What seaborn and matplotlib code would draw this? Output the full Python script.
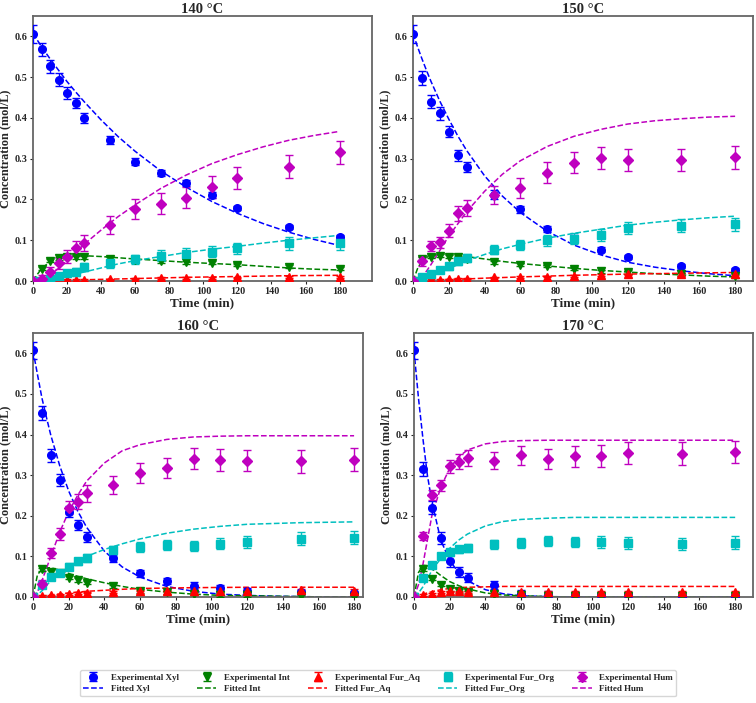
import numpy as np
import pandas as pd
import matplotlib
matplotlib.use("Agg")
import matplotlib.pyplot as plt
import seaborn as sns

sns.set_style("white")
plt.rcParams['font.family'] = ['Liberation Serif', 'DejaVu Serif']
plt.rcParams['font.weight'] = 'bold'
plt.rcParams['axes.labelweight'] = 'bold'
plt.rcParams['axes.titleweight'] = 'bold'

# ---------------- data ----------------
temps = ["140 °C", "150 °C", "160 °C", "170 °C"]
species = ["Xyl", "Int", "Fur_Aq", "Fur_Org", "Hum"]
exp_t = [0, 5, 10, 15, 20, 25, 30, 45, 60, 75, 90, 105, 120, 150, 180]
fit_t = [0, 2.5, 5, 7.5, 10, 15, 20, 25, 30, 40, 50, 60, 75, 90, 105, 120, 135, 150, 165, 180]

# Experimental values (mol/L)
xyl_140 = [0.607, 0.568, 0.527, 0.494, 0.461, 0.437, 0.400, 0.346, 0.293, 0.265, 0.240, 0.211, 0.179, 0.133, 0.107]
int_140 = [0.0, 0.030, 0.050, 0.056, 0.058, 0.058, 0.058, 0.055, 0.052, 0.048, 0.046, 0.045, 0.040, 0.035, 0.030]
furaq_140 = [0.0, 0.001, 0.001, 0.002, 0.002, 0.002, 0.003, 0.004, 0.006, 0.007, 0.008, 0.008, 0.009, 0.010, 0.010]
furorg_140 = [0.0, 0.0, 0.006, 0.012, 0.020, 0.022, 0.035, 0.043, 0.053, 0.062, 0.067, 0.072, 0.080, 0.092, 0.093]
hum_140 = [0.0, 0.005, 0.022, 0.043, 0.060, 0.081, 0.094, 0.138, 0.176, 0.190, 0.204, 0.230, 0.252, 0.280, 0.316]

xyl_150 = [0.607, 0.498, 0.440, 0.411, 0.366, 0.308, 0.279, 0.212, 0.176, 0.127, 0.104, 0.077, 0.059, 0.036, 0.027]
int_150 = [0.0, 0.055, 0.060, 0.062, 0.060, 0.058, 0.055, 0.046, 0.040, 0.038, 0.030, 0.024, 0.022, 0.016, 0.012]
furaq_150 = [0.0, 0.001, 0.002, 0.003, 0.004, 0.005, 0.006, 0.009, 0.010, 0.011, 0.013, 0.015, 0.016, 0.016, 0.018]
furorg_150 = [0.0, 0.010, 0.018, 0.028, 0.036, 0.048, 0.056, 0.077, 0.089, 0.100, 0.104, 0.113, 0.130, 0.136, 0.139]
hum_150 = [0.0, 0.048, 0.086, 0.095, 0.123, 0.166, 0.179, 0.210, 0.228, 0.266, 0.290, 0.302, 0.296, 0.297, 0.303]

xyl_160 = [0.607, 0.453, 0.349, 0.288, 0.210, 0.177, 0.147, 0.097, 0.058, 0.040, 0.028, 0.022, 0.016, 0.012, 0.010]
int_160 = [0.0, 0.068, 0.062, 0.060, 0.048, 0.042, 0.035, 0.026, 0.015, 0.012, 0.008, 0.005, 0.004, 0.002, 0.001]
furaq_160 = [0.0, 0.002, 0.004, 0.006, 0.008, 0.010, 0.011, 0.013, 0.016, 0.016, 0.016, 0.016, 0.016, 0.017, 0.016]
furorg_160 = [0.0, 0.030, 0.050, 0.060, 0.075, 0.088, 0.096, 0.115, 0.123, 0.128, 0.126, 0.131, 0.135, 0.144, 0.146]
hum_160 = [0.0, 0.033, 0.109, 0.155, 0.220, 0.235, 0.255, 0.276, 0.305, 0.318, 0.340, 0.338, 0.336, 0.334, 0.338]

xyl_170 = [0.607, 0.315, 0.220, 0.145, 0.089, 0.062, 0.048, 0.029, 0.008, 0.006, 0.005, 0.004, 0.004, 0.003, 0.003]
int_170 = [0.0, 0.068, 0.045, 0.030, 0.020, 0.015, 0.012, 0.007, 0.005, 0.003, 0.002, 0.002, 0.002, 0.002, 0.002]
furaq_170 = [0.0, 0.005, 0.008, 0.012, 0.014, 0.014, 0.013, 0.013, 0.013, 0.013, 0.013, 0.013, 0.012, 0.012, 0.012]
furorg_170 = [0.0, 0.047, 0.078, 0.102, 0.110, 0.117, 0.120, 0.130, 0.133, 0.138, 0.135, 0.135, 0.133, 0.130, 0.133]
hum_170 = [0.0, 0.150, 0.252, 0.275, 0.322, 0.333, 0.342, 0.336, 0.349, 0.339, 0.347, 0.348, 0.355, 0.353, 0.357]

# Error bars (mol/L)
xyl_err = [0.022, 0.017, 0.016, 0.015, 0.014, 0.013, 0.012, 0.010, 0.009, 0.008, 0.008, 0.007, 0.006, 0.005, 0.005]
int_err = [0.003, 0.004, 0.004, 0.004, 0.004, 0.004, 0.004, 0.004, 0.004, 0.004, 0.004, 0.004, 0.004, 0.004, 0.004]
furaq_err = [0.002, 0.002, 0.002, 0.002, 0.002, 0.002, 0.002, 0.002, 0.002, 0.002, 0.002, 0.002, 0.002, 0.003, 0.003]
furorg_err = [0.002, 0.005, 0.006, 0.007, 0.008, 0.009, 0.010, 0.011, 0.012, 0.013, 0.013, 0.014, 0.014, 0.015, 0.016]
hum_err = [0.003, 0.010, 0.012, 0.014, 0.016, 0.018, 0.020, 0.022, 0.024, 0.025, 0.026, 0.027, 0.027, 0.028, 0.028]

# Fitted curves read at fit_t
fxyl_140 = [0.607, 0.591, 0.575, 0.560, 0.545, 0.517, 0.489, 0.464, 0.440, 0.395, 0.354, 0.318, 0.270, 0.230, 0.195, 0.166, 0.141, 0.120, 0.102, 0.087]
fint_140 = [0.0, 0.016, 0.030, 0.039, 0.046, 0.055, 0.060, 0.062, 0.062, 0.060, 0.057, 0.054, 0.050, 0.046, 0.043, 0.040, 0.036, 0.032, 0.029, 0.027]
ffuraq_140 = [0.0, 0.0, 0.0, 0.0005, 0.001, 0.0015, 0.002, 0.0025, 0.003, 0.004, 0.005, 0.006, 0.0075, 0.009, 0.010, 0.011, 0.012, 0.013, 0.0135, 0.014]
ffurorg_140 = [0.0, 0.0, 0.001, 0.002, 0.003, 0.007, 0.012, 0.017, 0.022, 0.032, 0.042, 0.050, 0.060, 0.070, 0.078, 0.085, 0.093, 0.100, 0.106, 0.112]
fhum_140 = [0.0, 0.001, 0.003, 0.008, 0.015, 0.031, 0.050, 0.070, 0.090, 0.125, 0.158, 0.187, 0.227, 0.260, 0.288, 0.310, 0.329, 0.345, 0.357, 0.367]

fxyl_150 = [0.607, 0.575, 0.545, 0.517, 0.490, 0.441, 0.397, 0.356, 0.320, 0.258, 0.208, 0.168, 0.122, 0.088, 0.064, 0.046, 0.034, 0.025, 0.018, 0.013]
fint_150 = [0.0, 0.030, 0.050, 0.058, 0.062, 0.066, 0.065, 0.063, 0.060, 0.054, 0.048, 0.043, 0.037, 0.031, 0.026, 0.022, 0.018, 0.015, 0.012, 0.010]
ffuraq_150 = [0.0, 0.0, 0.0005, 0.001, 0.0015, 0.003, 0.004, 0.0045, 0.005, 0.007, 0.0085, 0.010, 0.012, 0.014, 0.0155, 0.017, 0.018, 0.019, 0.020, 0.021]
ffurorg_150 = [0.0, 0.001, 0.003, 0.006, 0.010, 0.020, 0.030, 0.040, 0.050, 0.065, 0.079, 0.090, 0.105, 0.117, 0.127, 0.137, 0.144, 0.150, 0.155, 0.159]
fhum_150 = [0.0, 0.002, 0.010, 0.024, 0.040, 0.075, 0.110, 0.140, 0.170, 0.220, 0.262, 0.295, 0.330, 0.355, 0.372, 0.385, 0.393, 0.398, 0.402, 0.404]

fxyl_160 = [0.607, 0.548, 0.490, 0.443, 0.398, 0.323, 0.261, 0.212, 0.172, 0.113, 0.074, 0.049, 0.026, 0.014, 0.007, 0.004, 0.002, 0.001, 0.0, 0.0]
fint_160 = [0.0, 0.055, 0.068, 0.072, 0.072, 0.066, 0.058, 0.051, 0.045, 0.035, 0.026, 0.019, 0.012, 0.007, 0.004, 0.003, 0.002, 0.001, 0.0, 0.0]
ffuraq_160 = [0.0, 0.001, 0.002, 0.0035, 0.005, 0.0075, 0.010, 0.012, 0.014, 0.0165, 0.019, 0.021, 0.022, 0.023, 0.0235, 0.024, 0.024, 0.024, 0.024, 0.024]
ffurorg_160 = [0.0, 0.005, 0.015, 0.028, 0.040, 0.058, 0.075, 0.088, 0.100, 0.117, 0.131, 0.143, 0.157, 0.167, 0.174, 0.179, 0.181, 0.183, 0.184, 0.185]
fhum_160 = [0.0, 0.012, 0.040, 0.070, 0.100, 0.160, 0.210, 0.250, 0.285, 0.330, 0.360, 0.375, 0.388, 0.394, 0.396, 0.397, 0.397, 0.397, 0.397, 0.397]

fxyl_170 = [0.607, 0.490, 0.390, 0.300, 0.235, 0.140, 0.090, 0.060, 0.040, 0.018, 0.008, 0.003, 0.001, 0.0, 0.0, 0.0, 0.0, 0.0, 0.0, 0.0]
fint_170 = [0.0, 0.060, 0.078, 0.077, 0.070, 0.053, 0.038, 0.028, 0.020, 0.010, 0.005, 0.003, 0.001, 0.0, 0.0, 0.0, 0.0, 0.0, 0.0, 0.0]
ffuraq_170 = [0.0, 0.003, 0.007, 0.010, 0.013, 0.018, 0.021, 0.023, 0.024, 0.025, 0.026, 0.026, 0.026, 0.026, 0.026, 0.026, 0.026, 0.026, 0.026, 0.026]
ffurorg_170 = [0.0, 0.010, 0.025, 0.045, 0.065, 0.095, 0.120, 0.140, 0.155, 0.175, 0.186, 0.191, 0.194, 0.196, 0.196, 0.196, 0.196, 0.196, 0.196, 0.196]
fhum_170 = [0.0, 0.030, 0.080, 0.140, 0.200, 0.270, 0.317, 0.345, 0.362, 0.377, 0.383, 0.385, 0.386, 0.386, 0.386, 0.386, 0.386, 0.386, 0.386, 0.386]

exp_data = {
    "140 °C": [xyl_140, int_140, furaq_140, furorg_140, hum_140],
    "150 °C": [xyl_150, int_150, furaq_150, furorg_150, hum_150],
    "160 °C": [xyl_160, int_160, furaq_160, furorg_160, hum_160],
    "170 °C": [xyl_170, int_170, furaq_170, furorg_170, hum_170],
}
fit_data = {
    "140 °C": [fxyl_140, fint_140, ffuraq_140, ffurorg_140, fhum_140],
    "150 °C": [fxyl_150, fint_150, ffuraq_150, ffurorg_150, fhum_150],
    "160 °C": [fxyl_160, fint_160, ffuraq_160, ffurorg_160, fhum_160],
    "170 °C": [fxyl_170, fint_170, ffuraq_170, ffurorg_170, fhum_170],
}
errs = [xyl_err, int_err, furaq_err, furorg_err, hum_err]

# ---------------- style ----------------
colors = ["#0000ff", "#008000", "#ff0000", "#00bfbf", "#bf00bf"]
markers = ["o", "v", "^", "s", "D"]

W, H = 756, 703
fig = plt.figure(figsize=(W / 100, H / 100), dpi=100)

# axes boxes in pixels: left, right, top, bottom
boxes = [(33, 372, 16, 281), (413, 753, 16, 281),
         (33, 363, 333, 597), (414, 753, 333, 597)]
xmaxs = [199, 190, 185, 190]

handles, labels = [], []
for i, temp in enumerate(temps):
    l, r, t, b = boxes[i]
    ax = fig.add_axes([l / W, 1 - b / H, (r - l) / W, (b - t) / H])
    for j, sp in enumerate(species):
        cont = ax.errorbar(exp_t, exp_data[temp][j], yerr=errs[j], fmt=markers[j],
                           color=colors[j], ms=5.5, capsize=3, elinewidth=1,
                           capthick=1, zorder=3)
        df = pd.DataFrame({"t": fit_t, "c": fit_data[temp][j]})
        sns.lineplot(data=df, x="t", y="c", ax=ax, color=colors[j],
                     linestyle="--", linewidth=1.1, zorder=2)
        if i == 0:
            handles.append(cont)
            labels.append(f"Experimental {sp}")
            handles.append(ax.lines[-1])
            labels.append(f"Fitted {sp}")
    ax.set_xlim(0, xmaxs[i])
    ax.set_ylim(0, 0.65)
    ax.set_xticks(np.arange(0, 181, 20))
    ax.set_yticks(np.arange(0, 0.61, 0.1))
    ax.set_yticklabels([f"{v:.1f}" for v in np.arange(0, 0.61, 0.1)])
    ax.tick_params(axis="both", labelsize=7.3, length=2, width=0.8,
                   pad=2, direction="out", left=True, bottom=True)
    ax.set_xlabel("Time (min)", fontsize=9.5, labelpad=1)
    ax.set_ylabel("Concentration (mol/L)", fontsize=8.8, labelpad=2)
    ax.set_title(temp, fontsize=10.5, pad=2)
    for s in ax.spines.values():
        s.set_color("#666666")
        s.set_linewidth(1.3)

leg = fig.legend(handles, labels, loc="lower center",
                 bbox_to_anchor=(0.5, 0.003), ncol=5, fontsize=6.5,
                 frameon=True, handlelength=2.2, columnspacing=2.0,
                 borderpad=0.4, labelspacing=0.3)
leg.get_frame().set_edgecolor("#cccccc")

fig.savefig("out.png", dpi=100)
